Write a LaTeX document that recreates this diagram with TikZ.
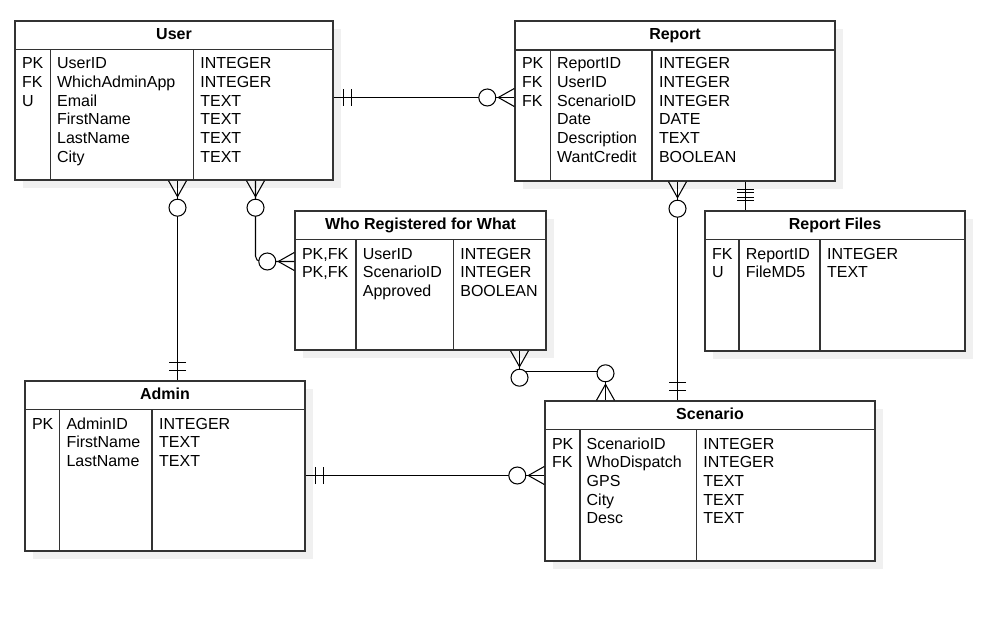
\documentclass[tikz,border=0pt]{standalone}
\usepackage{fontspec}
\setmainfont{Liberation Sans}
\usetikzlibrary{fit,shadows}
\tikzset{
  entity/.style={draw=black!80, line width=0.8pt, fill=white, inner sep=0pt,
    drop shadow={shadow xshift=0.16cm, shadow yshift=-0.16cm, fill=black!6, opacity=1}},
  grid/.style={draw=black!80, line width=0.8pt},
  title/.style={font=\fontsize{9.1}{11}\selectfont\bfseries, inner sep=0pt, text height=6.5pt, text depth=0pt},
  row/.style={font=\fontsize{9.1}{11}\selectfont, anchor=west, inner sep=0pt, text height=6.5pt, text depth=0pt},
  rel/.style={line width=0.6pt},
  zmany/.pic={\draw[rel] (-9,0) -- (0,16) -- (9,0); \draw[rel, fill=white] (0,27) circle (8.5);},
  mone/.pic={\draw[rel] (-8.5,9.5) -- (8.5,9.5) (-8.5,17.5) -- (8.5,17.5);}
}
\begin{document}
\begin{tikzpicture}[x=0.02cm, y=-0.02cm]
  \useasboundingbox (0,0) rectangle (986,617);
  % User
  \node[entity, fit={(15,21) (333,180)}] (user) {};
  \draw[grid] (user.west |- 0,49.7) -- (user.east |- 0,49.7) (50.3,49.7) -- (50.3,180) (193.3,49.7) -- (193.3,180);
  \node[title] (user-title) at (174,34) {User};
  \foreach \k/\f/\t [count=\i from 0] in {PK/UserID/INTEGER, FK/WhichAdminApp/INTEGER, U/Email/TEXT, /FirstName/TEXT, /LastName/TEXT, /City/TEXT} {
    \node[row] (user-k\i) at (21.7,63+18.7*\i) {\k};
    \node[row] (user-f\i) at (56.8,63+18.7*\i) {\f};
    \node[row] (user-t\i) at (200,63+18.7*\i) {\t};
  }
  % Report
  \node[entity, fit={(515,21) (835,181)}] (report) {};
  \draw[grid] (report.west |- 0,50) -- (report.east |- 0,50) (550.3,50) -- (550.3,181) (652,50) -- (652,181);
  \node[title] (report-title) at (675,34) {Report};
  \foreach \k/\f/\t [count=\i from 0] in {PK/ReportID/INTEGER, FK/UserID/INTEGER, FK/ScenarioID/INTEGER, /Date/DATE, /Description/TEXT, /WantCredit/BOOLEAN} {
    \node[row] (report-k\i) at (521.7,63+18.7*\i) {\k};
    \node[row] (report-f\i) at (556.8,63+18.7*\i) {\f};
    \node[row] (report-t\i) at (658.7,63+18.7*\i) {\t};
  }
  % Report Files
  \node[entity, fit={(705,211) (965,351)}] (files) {};
  \draw[grid] (files.west |- 0,239.3) -- (files.east |- 0,239.3) (739,239.3) -- (739,351) (820,239.3) -- (820,351);
  \node[title] (files-title) at (835,224) {Report Files};
  \foreach \k/\f/\t [count=\i from 0] in {FK/ReportID/INTEGER, U/FileMD5/TEXT} {
    \node[row] (files-k\i) at (711.7,253.3+18.7*\i) {\k};
    \node[row] (files-f\i) at (745.5,253.3+18.7*\i) {\f};
    \node[row] (files-t\i) at (826.7,253.3+18.7*\i) {\t};
  }
  % Who Registered for What
  \node[entity, fit={(295,211) (546,350)}] (reg) {};
  \draw[grid] (reg.west |- 0,239.3) -- (reg.east |- 0,239.3) (356,239.3) -- (356,350) (453.3,239.3) -- (453.3,350);
  \node[title] (reg-title) at (420.5,224) {Who Registered for What};
  \foreach \k/\f/\t [count=\i from 0] in {{PK,FK}/UserID/INTEGER, {PK,FK}/ScenarioID/INTEGER, /Approved/BOOLEAN} {
    \node[row] (reg-k\i) at (301.7,253.3+18.7*\i) {\k};
    \node[row] (reg-f\i) at (362.5,253.3+18.7*\i) {\f};
    \node[row] (reg-t\i) at (460,253.3+18.7*\i) {\t};
  }
  % Admin
  \node[entity, fit={(25,381) (305,551)}] (admin) {};
  \draw[grid] (admin.west |- 0,409.7) -- (admin.east |- 0,409.7) (59.7,409.7) -- (59.7,551) (152.1,409.7) -- (152.1,551);
  \node[title] (admin-title) at (165,394) {Admin};
  \foreach \k/\f/\t [count=\i from 0] in {PK/AdminID/INTEGER, /FirstName/TEXT, /LastName/TEXT} {
    \node[row] (admin-k\i) at (31.7,423.3+18.7*\i) {\k};
    \node[row] (admin-f\i) at (66.2,423.3+18.7*\i) {\f};
    \node[row] (admin-t\i) at (158.8,423.3+18.7*\i) {\t};
  }
  % Scenario
  \node[entity, fit={(545,401) (875,561)}] (scen) {};
  \draw[grid] (scen.west |- 0,429.3) -- (scen.east |- 0,429.3) (579.8,429.3) -- (579.8,561) (696.3,429.3) -- (696.3,561);
  \node[title] (scen-title) at (710,414) {Scenario};
  \foreach \k/\f/\t [count=\i from 0] in {PK/ScenarioID/INTEGER, FK/WhoDispatch/INTEGER, /GPS/TEXT, /City/TEXT, /Desc/TEXT} {
    \node[row] (scen-k\i) at (551.7,443.3+18.7*\i) {\k};
    \node[row] (scen-f\i) at (586.3,443.3+18.7*\i) {\f};
    \node[row] (scen-t\i) at (703,443.3+18.7*\i) {\t};
  }
  % connector ends
  \coordinate (ur-a) at (user.east |- 0,97.5);
  \coordinate (ur-b) at (report.west |- 0,97.5);
  \coordinate (ua-a) at (user.south -| 177.5,0);
  \coordinate (ua-b) at (admin.north -| 177.5,0);
  \coordinate (ug-a) at (user.south -| 255.5,0);
  \coordinate (ug-b) at (reg.west |- 0,261.5);
  \coordinate (rs-a) at (report.south -| 677.5,0);
  \coordinate (rs-b) at (scen.north -| 677.5,0);
  \coordinate (rf-a) at (report.south -| 745.5,0);
  \coordinate (rf-b) at (files.north -| 745.5,0);
  \coordinate (gs-a) at (reg.south -| 519.5,0);
  \coordinate (gs-m) at (562,371.5);
  \coordinate (gs-b) at (scen.north -| 605.5,0);
  \coordinate (as-a) at (admin.east |- 0,475.5);
  \coordinate (as-b) at (scen.west |- 0,475.5);
  % connectors
  \draw[rel] (ur-a) -- (ur-b);
  \draw[rel] (ua-a) -- (ua-b);
  \draw[rel, rounded corners=3pt] (ug-a) |- (ug-b);
  \draw[rel] (rs-a) -- (rs-b);
  \draw[rel] (rf-a) -- (rf-b);
  \draw[rel] (gs-a) |- (gs-m) -| (gs-b);
  \draw[rel] (as-a) -- (as-b);
  % markers
  \pic[rotate=90] at (ur-a) {mone};
  \pic[rotate=-90] at (ur-b) {zmany};
  \pic at (ua-a) {zmany};
  \pic[rotate=180] at (ua-b) {mone};
  \pic at (ug-a) {zmany};
  \pic[rotate=-90] at (ug-b) {zmany};
  \pic at (rs-a) {zmany};
  \pic[rotate=180] at (rs-b) {mone};
  \pic at ([yshift=0.03cm]rf-a) {mone};
  \pic[rotate=180] at ([yshift=0.01cm]rf-b) {mone};
  \pic at (gs-a) {zmany};
  \pic[rotate=180] at (gs-b) {zmany};
  \pic[rotate=90] at (as-a) {mone};
  \pic[rotate=-90] at (as-b) {zmany};
\end{tikzpicture}
\end{document}
